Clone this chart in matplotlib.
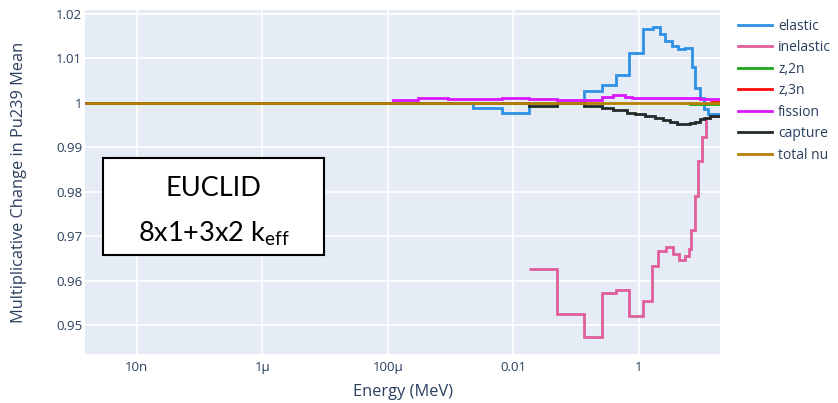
import matplotlib
matplotlib.use("Agg")
import matplotlib.pyplot as plt
from matplotlib.patches import Rectangle
from matplotlib.ticker import FixedLocator, FixedFormatter

plt.rcParams["font.family"] = ["Open Sans", "DejaVu Sans"]
plt.rcParams["mathtext.fontset"] = "custom"
plt.rcParams["mathtext.rm"] = "Lato"

TEXT_COLOR = "#2a3f5f"
E_MIN, E_MAX = 1.5e-9, 19.6

# group edges (MeV) and per-group multiplicative change
elastic_edges = [E_MIN, 2.29e-3, 6.6e-3, 0.018, 0.133, 0.255, 0.426, 0.701, 1.15, 1.67,
                 2.16, 2.59, 3.35, 4.18, 5.39, 6.97, 7.78, 9.35, 10.8, 12.5, E_MAX]
elastic = [1.0, 0.9989, 0.9978, 1.0, 1.0027, 1.0040, 1.0063, 1.0113, 1.0166, 1.0170,
           1.0154, 1.0139, 1.0128, 1.0121, 1.0124, 1.0080, 1.0034, 1.0012, 0.9986, 0.9975]

inelastic_edges = [0.018, 0.0491, 0.133, 0.255, 0.426, 0.701, 1.15, 1.61, 2.03, 2.69,
                   3.44, 4.38, 5.39, 6.31, 6.89, 7.78, 8.78, 9.95, 11.9, 13.8, E_MAX]
inelastic = [0.9626, 0.9525, 0.9473, 0.9572, 0.9578, 0.9521, 0.9555, 0.9634, 0.9667, 0.9676,
             0.9660, 0.9646, 0.9656, 0.9671, 0.9714, 0.9791, 0.9870, 0.9924, 0.9965, 0.9970]

z2n_edges = [5.39, 6.48, E_MAX]
z2n = [1.0, 0.9997]

z3n_edges = [13.8, E_MAX]
z3n = [1.0002]

fission_edges = [E_MIN, 1.22e-4, 3.05e-4, 9.1e-4, 6.6e-3, 0.018, 0.0491, 0.255, 0.386,
                 0.598, 0.774, 9.35, E_MAX]
fission = [1.0, 1.0007, 1.0010, 1.0008, 1.0010, 1.0008, 1.0007, 1.0014, 1.0017,
           1.0014, 1.0010, 1.0008]

capture_edges = [E_MIN, 0.018, 0.0491, 0.133, 0.255, 0.386, 0.644, 0.863, 1.25, 1.80,
                 2.41, 3.11, 4.03, 5.2, 6.48, 7.78, 9.35, 10.8, 13.5, 16.2, E_MAX]
capture = [1.0, 0.9994, 1.0, 0.9993, 0.9988, 0.9983, 0.9978, 0.9975, 0.9971, 0.9966,
           0.9961, 0.9956, 0.9953, 0.9952, 0.9954, 0.9958, 0.9963, 0.9967, 0.9970, 0.9971]

total_nu_edges = [E_MIN, E_MAX]
total_nu = [1.0]

series = [
    ("elastic", elastic_edges, elastic, "#2E91E5"),
    ("inelastic", inelastic_edges, inelastic, "#E15F99"),
    ("z,2n", z2n_edges, z2n, "#1CA71C"),
    ("z,3n", z3n_edges, z3n, "#FB0D0D"),
    ("fission", fission_edges, fission, "#DA16FF"),
    ("capture", capture_edges, capture, "#222A2A"),
    ("total nu", total_nu_edges, total_nu, "#B68100"),
]

x_ticks = [1e-8, 1e-6, 1e-4, 1e-2, 1]
x_tick_labels = ["10n", "1\u03bc", "100\u03bc", "0.01", "1"]
y_ticks = [0.95, 0.96, 0.97, 0.98, 0.99, 1.0, 1.01, 1.02]
y_tick_labels = ["0.95", "0.96", "0.97", "0.98", "0.99", "1", "1.01", "1.02"]

fig = plt.figure(figsize=(8.38, 4.03), dpi=100)
ax = fig.add_axes([85 / 838, 1 - 354 / 403, 635 / 838, 344 / 403])
ax.set_facecolor("#E5ECF6")

for name, edges, vals, color in series:
    ax.stairs(vals, edges, baseline=None, color=color, linewidth=2.0, label=name)

ax.set_xscale("log")
ax.set_xlim(E_MIN, E_MAX)
ax.set_ylim(0.9435, 1.0209)
ax.xaxis.set_major_locator(FixedLocator(x_ticks))
ax.xaxis.set_major_formatter(FixedFormatter(x_tick_labels))
ax.xaxis.set_minor_locator(FixedLocator([]))
ax.yaxis.set_major_locator(FixedLocator(y_ticks))
ax.yaxis.set_major_formatter(FixedFormatter(y_tick_labels))
ax.grid(True, color="white", linewidth=1.2)
ax.set_axisbelow(True)
for sp in ax.spines.values():
    sp.set_visible(False)
ax.tick_params(axis="both", length=0, labelsize=9.5, colors=TEXT_COLOR)
ax.tick_params(axis="x", pad=5)
ax.tick_params(axis="y", pad=2)

ax.set_xlabel("Energy (MeV)", fontsize=11.8, color=TEXT_COLOR, va="center")
ax.xaxis.set_label_coords(0.5, (354 - 392) / 344)
ax.set_ylabel("Multiplicative Change in Pu239 Mean", fontsize=11.8, color=TEXT_COLOR, va="center")
ax.yaxis.set_label_coords((19 - 85) / 635, (354 - 182) / 344)

ax.legend(loc="upper left", bbox_to_anchor=(738 / 838, 1 - 18.5 / 403),
          bbox_transform=fig.transFigure, frameon=False, fontsize=10,
          labelcolor=TEXT_COLOR, handlelength=2.45, handletextpad=0.43,
          labelspacing=0.47, borderpad=0, borderaxespad=0)

# annotation box
fig.add_artist(Rectangle((102.7 / 838, 1 - 255 / 403), (324.3 - 102.7) / 838, (255 - 158.3) / 403,
                         transform=fig.transFigure, facecolor="white", edgecolor="black",
                         linewidth=1.5))
fig.text(213.5 / 838, 1 - 189 / 403, "EUCLID", family="Lato", fontsize=19.5,
         ha="center", va="center", color="black")
fig.text(213.5 / 838, 1 - 234 / 403, "8x1+3x2 k$_{\\mathrm{eff}}$", family="Lato", fontsize=19.5,
         ha="center", va="center", color="black")

fig.savefig("out.png", dpi=100, facecolor="white")
